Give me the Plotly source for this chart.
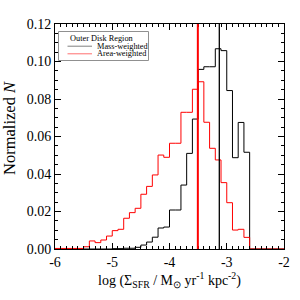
import numpy as np
import plotly.graph_objects as go

# ---- data ----
bin_left = np.round(np.arange(-6.0, -2.0, 0.1), 1)   # 40 bins of 0.1 dex
bin_width = 0.1

mass_weighted = [0, 0, 0, 0, 0, 0, 0, 0, 0, 0,
                 0.0002, 0.0002, 0.0004, 0.0004, 0.0009, 0.0021, 0.0037, 0.0063, 0.0112, 0.0117,
                 0.0208, 0.0208, 0.0341, 0.0510, 0.0693, 0.0958, 0.0972, 0.0972, 0.1068, 0.1058,
                 0.0845, 0.0487, 0.0675, 0.0516, 0, 0, 0, 0, 0, 0]

area_weighted = [0.0003, 0.0003, 0.0003, 0.0003, 0.0003, 0.0012, 0.0043, 0.0034, 0.0048, 0.0069,
                 0.0098, 0.0105, 0.0164, 0.0194, 0.0217, 0.0292, 0.0334, 0.0395, 0.0501, 0.0489,
                 0.0564, 0.0564, 0.0729, 0.0729, 0.0852, 0.0892, 0.0676, 0.0537, 0.0475, 0.0354,
                 0.0247, 0.0101, 0.0105, 0.0062, 0, 0, 0, 0, 0, 0]

mass_median = -3.13
area_median = -3.505

x_tick_vals = [-6, -5, -4, -3, -2]
x_tick_labels = ["-6", "-5", "-4", "-3", "-2"]
y_tick_vals = [0.00, 0.02, 0.04, 0.06, 0.08, 0.10, 0.12]
y_tick_labels = ["0.00", "0.02", "0.04", "0.06", "0.08", "0.10", "0.12"]

legend_title = "Outer Disk Region"
legend_names = ["Mass-weighted", "Area-weighted"]

# ---- figure ----
FONT = "Liberation Serif, Times New Roman, serif"
edges = list(bin_left) + [float(bin_left[-1] + bin_width)]

fig = go.Figure()
fig.add_trace(go.Scatter(x=edges, y=list(mass_weighted) + [mass_weighted[-1]],
                         mode="lines", line=dict(shape="hv", color="black", width=1),
                         name=legend_names[0], showlegend=False))
fig.add_trace(go.Scatter(x=edges, y=list(area_weighted) + [area_weighted[-1]],
                         mode="lines", line=dict(shape="hv", color="#ff0000", width=1),
                         name=legend_names[1], showlegend=False))

fig.add_shape(type="line", xref="x", yref="paper", x0=mass_median, x1=mass_median,
              y0=0, y1=1, line=dict(color="black", width=1.3))
fig.add_shape(type="line", xref="x", yref="paper", x0=area_median, x1=area_median,
              y0=0, y1=1, line=dict(color="#ff0000", width=2))

# manual legend (pixel-tight like the original)
L, T, W, H = 55, 24, 229, 225
def px(x):
    return (x - L) / W
def py(y):
    return (T + H - y) / H

fig.add_shape(type="rect", xref="paper", yref="paper",
              x0=px(58.5), x1=px(148.5), y0=py(60.5), y1=py(31.5),
              line=dict(color="#909090", width=1), fillcolor="white", layer="above")
fig.add_annotation(xref="paper", yref="paper", x=px(67.5), y=py(38.5), text=legend_title,
                   showarrow=False, xanchor="left", yanchor="middle",
                   font=dict(family=FONT, size=8.3, color="black"))
for name, col, yy in [(legend_names[0], "#808080", 46.2), (legend_names[1], "#ff7070", 53.8)]:
    fig.add_shape(type="line", xref="paper", yref="paper", x0=px(67.5), x1=px(92),
                  y0=py(yy), y1=py(yy), line=dict(color=col, width=1), layer="above")
    fig.add_annotation(xref="paper", yref="paper", x=px(94.5), y=py(yy), text=name,
                       showarrow=False, xanchor="left", yanchor="middle",
                       font=dict(family=FONT, size=8.3, color="black"))

fig.add_annotation(xref="paper", yref="paper", x=px(9), y=py(128), text="Normalized <i>N</i>",
                   textangle=-90, showarrow=False, xanchor="center", yanchor="middle",
                   font=dict(family=FONT, size=16.5, color="black"))

axis_common = dict(showgrid=False, zeroline=False, showline=True, linecolor="black",
                   linewidth=1, mirror="allticks", ticks="inside", tickcolor="black",
                   tickwidth=1, tickfont=dict(family=FONT, size=14, color="black"))

fig.update_xaxes(range=[-6, -2], tickvals=x_tick_vals, ticktext=x_tick_labels, ticklen=6,
                 minor=dict(dtick=0.1, tick0=-6, ticklen=3, ticks="inside", tickcolor="black"),
                 title=dict(text="log (Σ<sub>SFR</sub> / M<sub>⊙</sub> yr<sup>-1</sup> kpc<sup>-2</sup>)",
                            font=dict(family=FONT, size=14, color="black"), standoff=4),
                 automargin=False, **axis_common)
fig.update_yaxes(range=[0, 0.12], tickvals=y_tick_vals, ticktext=y_tick_labels, ticklen=6,
                 minor=dict(dtick=0.005, tick0=0, ticklen=3, ticks="inside", tickcolor="black"),
                 automargin=False, **axis_common)

fig.update_layout(width=300, height=300, margin=dict(l=L, r=300 - L - W, t=T, b=300 - T - H),
                  plot_bgcolor="white", paper_bgcolor="white", showlegend=False,
                  font=dict(family=FONT, color="black"))

fig.write_html("out.html", config={"displayModeBar": False},
               post_script="document.body.style.margin='0';")
